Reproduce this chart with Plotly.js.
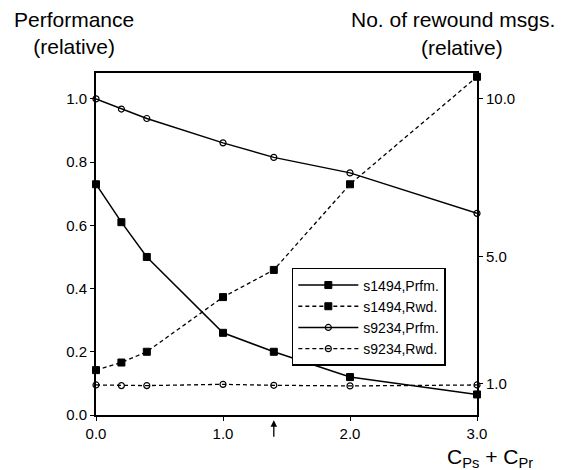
<!DOCTYPE html>
<html>
<head>
<meta charset="utf-8">
<script src="https://cdn.plot.ly/plotly-3.0.1.min.js"></script>
<style>html,body{margin:0;padding:0;background:#fff;}#chart{width:563px;height:470px;}</style>
</head>
<body>
<div id="chart"></div>
<script>
// Data
var xVals = [0, 0.2, 0.4, 1.0, 1.4, 2.0, 3.0];
var s1494Prfm = [0.73, 0.61, 0.50, 0.26, 0.20, 0.12, 0.065];
var s1494Rwd = [1.42, 1.66, 2.0, 3.73, 4.59, 7.30, 10.7];
var s9234Prfm = [1.0, 0.968, 0.938, 0.861, 0.815, 0.766, 0.638];
var s9234Rwd = [0.95, 0.93, 0.93, 0.97, 0.94, 0.92, 0.95];
var seriesNames = ["s1494,Prfm.", "s1494,Rwd.", "s9234,Prfm.", "s9234,Rwd."];
var xTicks = [0, 1, 2, 3];
var leftTicks = [0, 0.2, 0.4, 0.6, 0.8, 1.0];
var rightTicks = [1, 5, 10];
var arrowX = 1.4;

var FONT = "Liberation Sans, Arial, sans-serif";
var filledSq = {symbol: "square", size: 7, color: "#000", line: {color: "#000", width: 1}};
var openCirc = {symbol: "circle-open", size: 6, color: "#000", line: {color: "#000", width: 1.2}};

var traces = [
  {x: xVals, y: s1494Prfm, name: seriesNames[0], yaxis: "y", mode: "lines+markers",
   line: {color: "#000", width: 1.5}, marker: filledSq, cliponaxis: false},
  {x: xVals, y: s1494Rwd, name: seriesNames[1], yaxis: "y2", mode: "lines+markers",
   line: {color: "#000", width: 1.3, dash: "4px,3px"}, marker: filledSq, cliponaxis: false},
  {x: xVals, y: s9234Prfm, name: seriesNames[2], yaxis: "y", mode: "lines+markers",
   line: {color: "#000", width: 1.5}, marker: openCirc, cliponaxis: false},
  {x: xVals, y: s9234Rwd, name: seriesNames[3], yaxis: "y2", mode: "lines+markers",
   line: {color: "#000", width: 1.3, dash: "4px,3px"}, marker: openCirc, cliponaxis: false}
];

var layout = {
  width: 563, height: 470,
  margin: {l: 96, r: 86, t: 73, b: 55, pad: 0},
  paper_bgcolor: "#fff", plot_bgcolor: "#fff",
  font: {family: FONT, color: "#000", size: 15},
  showlegend: true,
  legend: {x: 0.514, y: 0.43, xanchor: "left", yanchor: "top",
    bgcolor: "#fff", bordercolor: "#000", borderwidth: 1.5,
    font: {family: FONT, size: 14, color: "#000"}, tracegroupgap: 0, itemwidth: 60},
  xaxis: {range: [0, 3], tickvals: xTicks, tickformat: ".1f", showgrid: false, zeroline: false,
    showline: true, linecolor: "#000", linewidth: 2, mirror: true,
    ticks: "outside", ticklen: 4, tickcolor: "#000", tickfont: {size: 15}},
  yaxis: {range: [0, 1.082], tickvals: leftTicks, tickformat: ".1f", showgrid: false, zeroline: false,
    showline: true, linecolor: "#000", linewidth: 2,
    ticks: "outside", ticklen: 4, tickcolor: "#000", tickfont: {size: 15}},
  yaxis2: {range: [0, 10.82], tickvals: rightTicks, tickformat: ".1f", overlaying: "y", side: "right",
    showgrid: false, zeroline: false, showline: true, linecolor: "#000", linewidth: 2,
    ticks: "outside", ticklen: 4, tickcolor: "#000", tickfont: {size: 15}},
  annotations: [
    {text: "Performance<br>(relative)", xref: "paper", yref: "paper", x: -0.058, y: 1.195,
     xanchor: "center", yanchor: "top", showarrow: false, align: "center",
     font: {family: FONT, size: 21, color: "#000"}},
    {text: "No. of rewound msgs.", xref: "paper", yref: "paper", x: 1.21, y: 1.195,
     xanchor: "right", yanchor: "top", showarrow: false,
     font: {family: FONT, size: 21, color: "#000"}},
    {text: "(relative)", xref: "paper", yref: "paper", x: 0.961, y: 1.115,
     xanchor: "center", yanchor: "top", showarrow: false,
     font: {family: FONT, size: 21, color: "#000"}},
    {text: "C<sub>Ps</sub> + C<sub>Pr</sub>", xref: "paper", yref: "paper", x: 1.034, y: -0.126,
     xanchor: "center", yanchor: "middle", showarrow: false,
     font: {family: FONT, size: 21, color: "#000"}},
    {text: "", x: arrowX, xref: "x", y: -0.015, yref: "paper", showarrow: true,
     ax: 0, ay: 18, arrowhead: 2, arrowsize: 1, arrowwidth: 1.3, arrowcolor: "#000"}
  ]
};

Plotly.newPlot("chart", traces, layout, {displayModeBar: false, staticPlot: true});
</script>
</body>
</html>
